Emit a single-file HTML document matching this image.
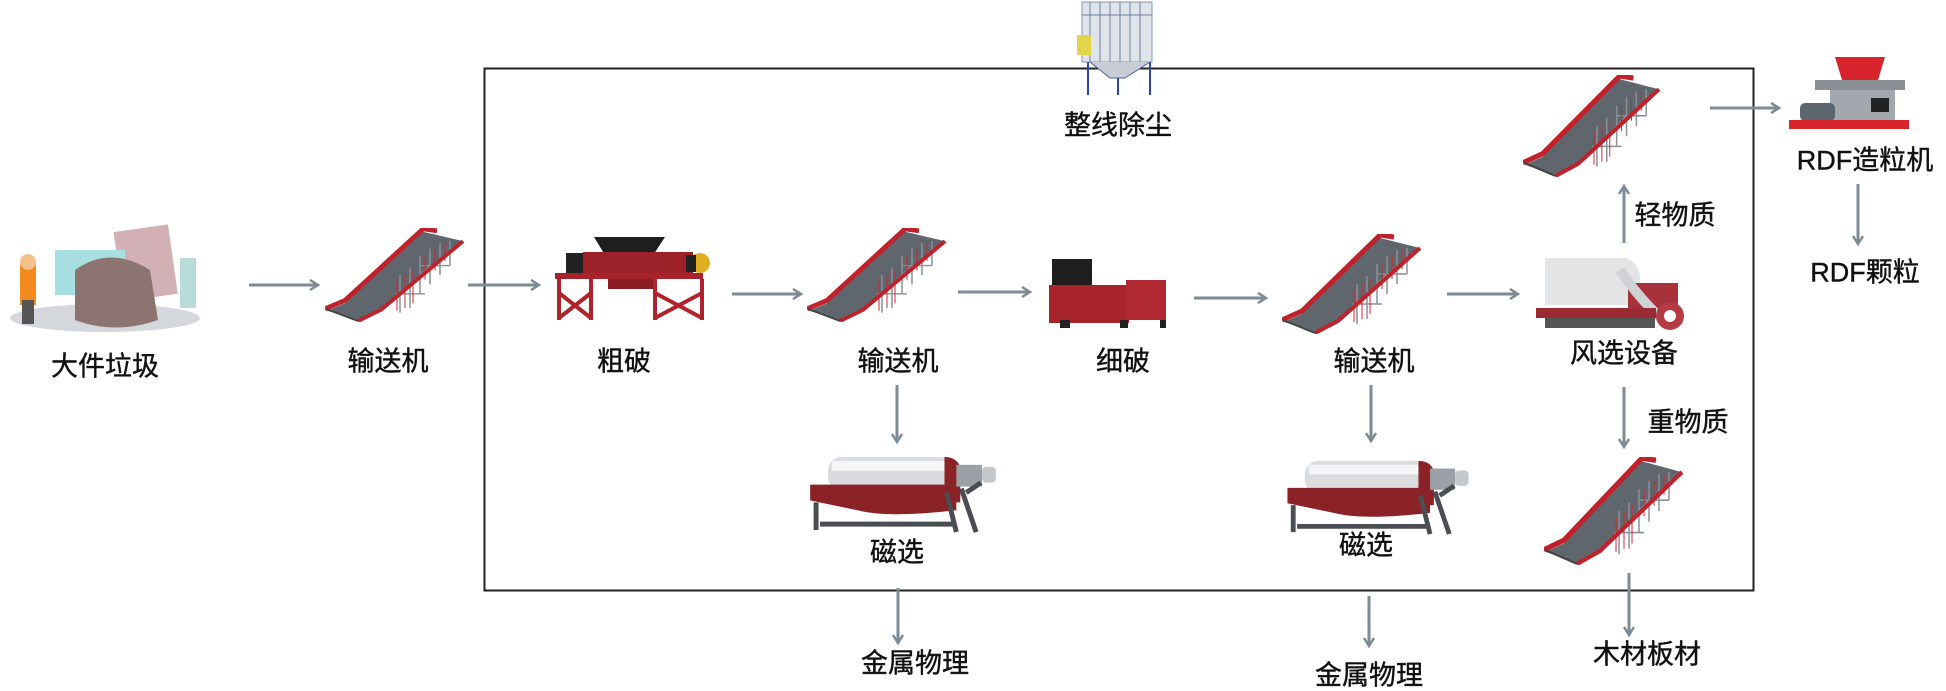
<!DOCTYPE html>
<html><head><meta charset="utf-8"><style>
html,body{margin:0;padding:0;background:#fff;}
body{width:1946px;height:687px;position:relative;overflow:hidden;font-family:"Liberation Sans","Noto Sans CJK SC",sans-serif;}
.t{position:absolute;font-size:27px;color:#111;white-space:nowrap;transform:translate(-50%,-50%);line-height:1;-webkit-text-stroke:0.4px #111;}
svg{position:absolute;left:0;top:0;}
</style></head><body>
<svg width="1946" height="687" viewBox="0 0 1946 687">
<defs>
<marker id="ah" markerWidth="12" markerHeight="12" refX="9" refY="6" orient="auto" markerUnits="userSpaceOnUse">
<path d="M1,1 L9,6 L1,11" fill="none" stroke="#7d8b95" stroke-width="2.5"/>
</marker>
<symbol id="conv" viewBox="0 0 140 100" preserveAspectRatio="none">
<polygon points="2,88 20,80 98,4 138,14 56,86 33,98" fill="#5f666d"/>
<g stroke="#8a9098" stroke-width="1.5" fill="none">
<path d="M95,30 V70 M105,22 V60 M115,16 V50 M125,14 V40 M75,50 V90 M85,42 V85 M70,70 H100 M95,40 H125 M85,60 L105,40"/>
</g>
<g stroke="#d7262d" stroke-width="1" fill="none">
<path d="M72,55 V88 M80,50 V85 M88,44 V80 M100,30 V55 M110,22 V45 M120,16 V35"/>
</g>
<path d="M0,86 L20,77 L98,1 L112,3" fill="none" stroke="#c0212a" stroke-width="5"/>
<path d="M33,99 L56,87 L138,14" fill="none" stroke="#c0212a" stroke-width="4"/>
<path d="M1,86 L33,99" stroke="#444" stroke-width="2"/>
</symbol>
<symbol id="mag" viewBox="0 0 192 82">
<rect x="20" y="4" width="128" height="34" rx="14" fill="#d9dbde"/>
<rect x="24" y="8" width="120" height="10" fill="#f4f5f6"/>
<path d="M2,32 H150 V58 Q80,66 50,58 L2,48 Z" fill="#8a2228"/>
<path d="M138,4 Q150,4 154,14 V50 H138 Z" fill="#8a2228"/>
<rect x="150" y="12" width="26" height="22" fill="#9aa0a6"/>
<rect x="176" y="14" width="14" height="16" rx="4" fill="#c5c8cb"/>
<path d="M8,50 L8,78 M12,72 L150,72 M140,40 L150,80 M155,36 L170,80 M160,40 L175,30" stroke="#4a4d51" stroke-width="5" fill="none"/>
</symbol>
</defs>

<rect x="484.5" y="68.5" width="1269" height="522" fill="none" stroke="#222" stroke-width="2"/>

<g stroke="#7d8b95" stroke-width="3" marker-end="url(#ah)">
<line x1="249" y1="285" x2="318" y2="285"/>
<line x1="468" y1="285" x2="539" y2="285"/>
<line x1="732" y1="294" x2="801" y2="294"/>
<line x1="958" y1="292" x2="1030" y2="292"/>
<line x1="1194" y1="298" x2="1266" y2="298"/>
<line x1="1447" y1="294" x2="1518" y2="294"/>
<line x1="1710" y1="108" x2="1779" y2="108"/>
<line x1="897" y1="385" x2="897" y2="442"/>
<line x1="1371" y1="385" x2="1371" y2="441"/>
<line x1="1624" y1="387" x2="1624" y2="447"/>
<line x1="1624" y1="243" x2="1624" y2="186"/>
<line x1="1858" y1="184" x2="1858" y2="244"/>
<line x1="898" y1="588" x2="898" y2="643"/>
<line x1="1369" y1="596" x2="1369" y2="646"/>
<line x1="1629" y1="573" x2="1629" y2="635"/>
</g>

<use href="#conv" x="325" y="228" width="140" height="94"/>
<use href="#conv" x="807" y="228" width="140" height="94"/>
<use href="#conv" x="1282" y="234" width="140" height="100"/>
<use href="#conv" x="1523" y="75" width="138" height="102"/>
<use href="#conv" x="1544" y="457" width="140" height="108"/>

<use href="#mag" x="807" y="453" width="192" height="81"/>
<use href="#mag" x="1282" y="457" width="192" height="79"/>

<g>
<polygon points="594,237 665,237 650,260 608,260" fill="#1e1e1e"/>
<rect x="566" y="253" width="20" height="20" fill="#222"/>
<rect x="583" y="252" width="110" height="24" fill="#9c2129"/>
<circle cx="700" cy="263" r="10" fill="#e1b022"/>
<rect x="686" y="255" width="10" height="17" fill="#222"/>
<rect x="555" y="273" width="148" height="6" fill="#a8242c"/>
<rect x="608" y="279" width="46" height="10" fill="#8a1c22"/>
<g stroke="#b1232b" stroke-width="4" fill="none">
<path d="M559,279 V320 M591,279 V320 M655,279 V320 M702,279 V320"/>
<path d="M559,293 L591,318 M591,293 L559,318 M655,293 L702,318 M702,293 L655,318"/>
</g>
</g>

<g>
<rect x="1052" y="259" width="40" height="28" fill="#1e1e1e"/>
<rect x="1049" y="285" width="80" height="38" fill="#a8242c"/>
<rect x="1126" y="280" width="40" height="40" fill="#b02830"/>
<rect x="1060" y="320" width="10" height="8" fill="#222"/>
<rect x="1120" y="320" width="8" height="8" fill="#222"/>
<rect x="1160" y="320" width="6" height="8" fill="#222"/>
</g>

<g>
<path d="M1545,258 H1625 Q1640,262 1640,280 V305 H1545 Z" fill="#e3e4e6"/>
<rect x="1628" y="283" width="50" height="30" fill="#a8323c"/>
<path d="M1620,270 Q1640,300 1665,322" stroke="#cfd2d5" stroke-width="10" fill="none"/>
<circle cx="1670" cy="316" r="14" fill="#b43a44"/>
<circle cx="1670" cy="316" r="6" fill="#fff"/>
<rect x="1536" y="308" width="120" height="10" fill="#9c2a33"/>
<rect x="1545" y="318" width="110" height="10" fill="#555"/>
</g>

<g>
<rect x="1082" y="2" width="70" height="60" fill="#dfe3ea" stroke="#8896ad" stroke-width="1"/>
<g stroke="#6e7f9c" stroke-width="1"><path d="M1090,2 V62 M1100,2 V62 M1110,2 V62 M1120,2 V62 M1130,2 V62 M1140,2 V62 M1082,15 H1152"/></g>
<rect x="1077" y="35" width="14" height="20" fill="#e4d44a"/>
<path d="M1090,62 L1110,78 H1125 L1150,62" fill="#c8ccd6" stroke="#5060a0"/>
<path d="M1088,62 V95 M1150,62 V95 M1118,78 V95" stroke="#2c44b0" stroke-width="2"/>
</g>

<g>
<polygon points="1835,57 1885,57 1878,80 1842,80" fill="#d8242d"/>
<rect x="1815" y="80" width="90" height="10" fill="#8b9096"/>
<rect x="1830" y="90" width="65" height="32" fill="#a3a8ae"/>
<rect x="1871" y="98" width="18" height="14" fill="#222"/>
<rect x="1800" y="103" width="35" height="18" rx="5" fill="#5c6670"/>
<rect x="1789" y="120" width="120" height="9" fill="#d8242d"/>
</g>

<g>
<ellipse cx="105" cy="318" rx="95" ry="14" fill="#d4d8dc"/>
<rect x="118" y="228" width="55" height="70" fill="#d3b0b6" transform="rotate(-8 145 262)"/>
<rect x="55" y="250" width="70" height="45" fill="#a8dfe0"/>
<path d="M75,270 Q110,245 150,270 L158,320 Q115,335 75,320 Z" fill="#8c7570"/>
<rect x="180" y="258" width="16" height="50" fill="#b9dcd8"/>
<path d="M20,265 q8,-12 16,0 v40 h-16 z" fill="#f28a1e"/>
<circle cx="28" cy="262" r="8" fill="#f6c08a"/>
<rect x="22" y="300" width="12" height="24" fill="#555"/>
</g>
</svg>

<div class="t" style="left:105px;top:367px">大件垃圾</div>
<div class="t" style="left:388px;top:362px">输送机</div>
<div class="t" style="left:624px;top:362px">粗破</div>
<div class="t" style="left:898px;top:362px">输送机</div>
<div class="t" style="left:1123px;top:362px">细破</div>
<div class="t" style="left:1374px;top:362px">输送机</div>
<div class="t" style="left:1624px;top:354px">风选设备</div>
<div class="t" style="left:1118px;top:126px">整线除尘</div>
<div class="t" style="left:1865px;top:161px">RDF造粒机</div>
<div class="t" style="left:1865px;top:273px">RDF颗粒</div>
<div class="t" style="left:1675px;top:216px">轻物质</div>
<div class="t" style="left:1688px;top:423px">重物质</div>
<div class="t" style="left:897px;top:553px">磁选</div>
<div class="t" style="left:1366px;top:546px">磁选</div>
<div class="t" style="left:915px;top:664px">金属物理</div>
<div class="t" style="left:1369px;top:676px">金属物理</div>
<div class="t" style="left:1647px;top:655px">木材板材</div>
</body></html>
